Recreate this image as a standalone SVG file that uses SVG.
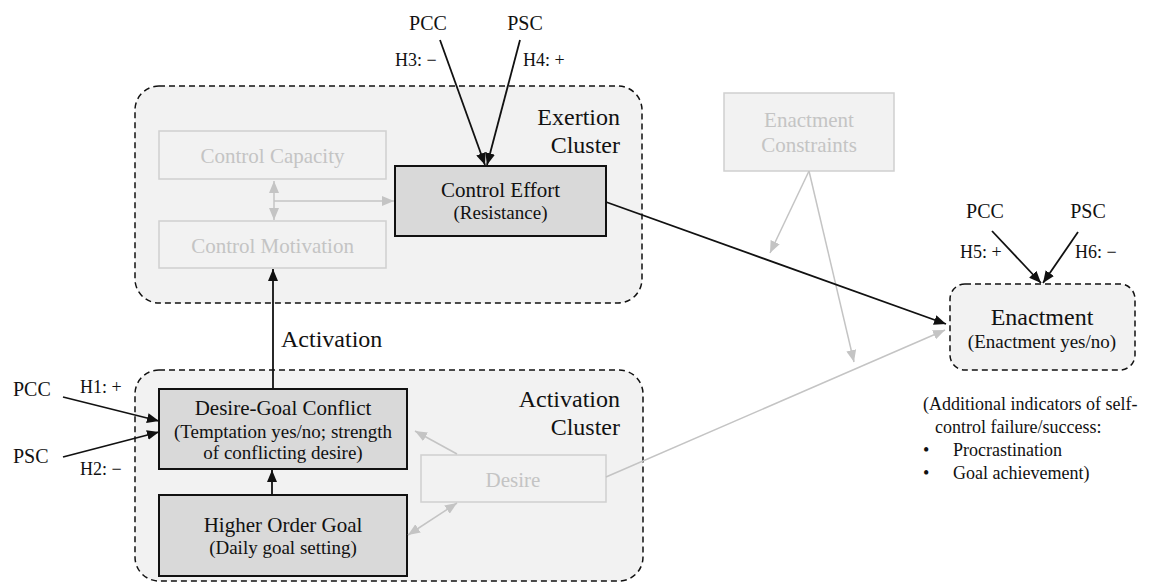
<svg xmlns="http://www.w3.org/2000/svg" width="1156" height="588" viewBox="0 0 1156 588">
<style>
text{font-family:'Liberation Serif','Tinos','Times New Roman','DejaVu Serif',serif;fill:#111}
.cl{fill:#f2f2f2;stroke:#111;stroke-width:1.5;stroke-dasharray:6 4}
.dk{fill:#d9d9d9;stroke:#111;stroke-width:2}
.lt{fill:#f2f2f2;stroke:#cfcfcf;stroke-width:1.5}
.gt{fill:#c4c4c4}
.t21{font-size:21px}
.t19{font-size:19px}
.t24{font-size:24px}
.t20{font-size:20px}
.t18{font-size:18px}
.bl{stroke:#111;stroke-width:1.8;fill:none;marker-end:url(#ab)}
.gr{stroke:#c4c4c4;stroke-width:1.5;fill:none;marker-end:url(#ag)}
.gr2{stroke:#c4c4c4;stroke-width:1.5;fill:none;marker-end:url(#ag);marker-start:url(#ag)}
</style>
<defs>
<marker id="ab" markerUnits="userSpaceOnUse" markerWidth="12" markerHeight="10" refX="12" refY="5" orient="auto-start-reverse"><path d="M0,0 L12,5 L0,10 z" fill="#111"/></marker>
<marker id="ag" markerUnits="userSpaceOnUse" markerWidth="12" markerHeight="10" refX="12" refY="5" orient="auto-start-reverse"><path d="M0,0 L12,5 L0,10 z" fill="#c4c4c4"/></marker>
</defs>
<g id="exertion-cluster">
<rect class="cl" x="135" y="86" width="507" height="217" rx="24"/>
<text class="t24" x="620" y="125" text-anchor="end">Exertion</text>
<text class="t24" x="620" y="153" text-anchor="end">Cluster</text>
</g>
<g id="activation-cluster">
<rect class="cl" x="135" y="370" width="508" height="211" rx="24"/>
<text class="t24" x="620" y="407" text-anchor="end">Activation</text>
<text class="t24" x="620" y="435" text-anchor="end">Cluster</text>
</g>
<g id="control-capacity">
<rect class="lt" x="159" y="131" width="227" height="48"/>
<text class="t21 gt" x="272.5" y="163" text-anchor="middle">Control Capacity</text>
</g>
<g id="control-motivation">
<rect class="lt" x="159" y="221" width="227" height="47"/>
<text class="t21 gt" x="272.5" y="253" text-anchor="middle">Control Motivation</text>
</g>
<g id="control-effort">
<rect class="dk" x="395" y="166" width="211" height="70"/>
<text class="t21" x="500.5" y="197" text-anchor="middle">Control Effort</text>
<text class="t19" x="500.5" y="219" text-anchor="middle">(Resistance)</text>
</g>
<g id="enactment-constraints">
<rect class="lt" x="724" y="93" width="170" height="78"/>
<text class="t21 gt" x="809" y="127" text-anchor="middle">Enactment</text>
<text class="t21 gt" x="809" y="152" text-anchor="middle">Constraints</text>
</g>
<g id="desire-goal-conflict">
<rect class="dk" x="159" y="389" width="248" height="80"/>
<text class="t21" x="283" y="415" text-anchor="middle">Desire-Goal Conflict</text>
<text class="t19" x="283" y="438" text-anchor="middle">(Temptation yes/no; strength</text>
<text class="t19" x="283" y="459" text-anchor="middle">of conflicting desire)</text>
</g>
<g id="higher-order-goal">
<rect class="dk" x="159" y="495" width="248" height="81"/>
<text class="t21" x="283" y="532" text-anchor="middle">Higher Order Goal</text>
<text class="t19" x="283" y="554" text-anchor="middle">(Daily goal setting)</text>
</g>
<g id="desire">
<rect class="lt" x="421" y="455" width="185" height="47"/>
<text class="t21 gt" x="513" y="487" text-anchor="middle">Desire</text>
</g>
<g id="enactment">
<rect class="cl" x="950" y="284" width="185" height="86" rx="15"/>
<text class="t24" x="1042" y="325" text-anchor="middle">Enactment</text>
<text class="t19" x="1042" y="348" text-anchor="middle">(Enactment yes/no)</text>
</g>
<g id="additional-indicators">
<text class="t18" x="923" y="410">(Additional indicators of self-</text>
<text class="t18" x="935" y="433">control failure/success:</text>
<text class="t18" x="923" y="456">•</text>
<text class="t18" x="953" y="456">Procrastination</text>
<text class="t18" x="923" y="479">•</text>
<text class="t18" x="953" y="479">Goal achievement)</text>
</g>
<g id="moderator-labels">
<text class="t20" x="428" y="30" text-anchor="middle">PCC</text>
<text class="t20" x="525" y="30" text-anchor="middle">PSC</text>
<text class="t18" x="395" y="66">H3: −</text>
<text class="t18" x="523" y="66">H4: +</text>
<text class="t20" x="985" y="218" text-anchor="middle">PCC</text>
<text class="t20" x="1088" y="218" text-anchor="middle">PSC</text>
<text class="t18" x="960" y="258">H5: +</text>
<text class="t18" x="1075" y="258">H6: −</text>
<text class="t20" x="13" y="396">PCC</text>
<text class="t20" x="13" y="463">PSC</text>
<text class="t18" x="80" y="393">H1: +</text>
<text class="t18" x="80" y="475">H2: −</text>
<text class="t24" x="281" y="347">Activation</text>
</g>
<g id="connectors">
<line class="gr2" x1="274" y1="181" x2="274" y2="220"/>
<line class="gr" x1="274" y1="201" x2="394" y2="201"/>
<line class="gr" x1="809" y1="171" x2="770" y2="253"/>
<line class="gr" x1="809" y1="171" x2="854" y2="362"/>
<line class="gr" x1="457" y1="454" x2="415" y2="431"/>
<line class="gr2" x1="457" y1="503" x2="408" y2="535"/>
<line class="gr" x1="606" y1="477" x2="945" y2="330"/>
<line class="bl" x1="606" y1="202" x2="946" y2="324"/>
<line class="bl" x1="273" y1="389" x2="273" y2="269"/>
<line class="bl" x1="272" y1="495" x2="272" y2="470"/>
<line class="bl" x1="440" y1="40" x2="485" y2="165"/>
<line class="bl" x1="520" y1="40" x2="487" y2="165"/>
<line class="bl" x1="992" y1="231" x2="1041" y2="283"/>
<line class="bl" x1="1078" y1="232" x2="1043" y2="283"/>
<line class="bl" x1="63" y1="397" x2="159" y2="421"/>
<line class="bl" x1="63" y1="457" x2="159" y2="432"/>
</g>
</svg>
